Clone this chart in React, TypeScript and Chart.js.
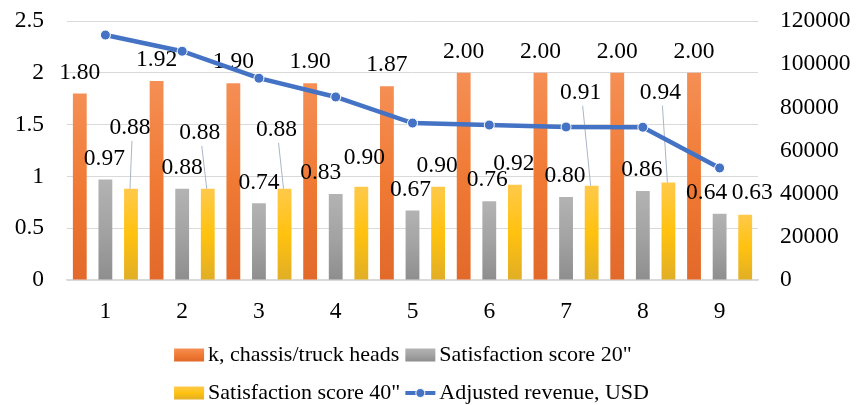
import React, { useEffect, useRef } from "react";
import { Chart, registerables } from "chart.js";

Chart.register(...registerables);

// ---------- data ----------
const categories = ["1", "2", "3", "4", "5", "6", "7", "8", "9"];
const chassisK = [1.8, 1.92, 1.9, 1.9, 1.87, 2.0, 2.0, 2.0, 2.0];
const score20 = [0.97, 0.88, 0.74, 0.83, 0.67, 0.76, 0.8, 0.86, 0.64];
const score40 = [0.88, 0.88, 0.88, 0.9, 0.9, 0.92, 0.91, 0.94, 0.63];
const revenue = [113500, 106000, 93500, 84800, 72700, 71800, 70900, 70800, 51900];

const seriesNames = [
  "k, chassis/truck heads",
  'Satisfaction score 20"',
  'Satisfaction score 40"',
  "Adjusted revenue, USD",
];

// ---------- style / layout ----------
const FONT = '"Liberation Serif", "Times New Roman", Times, "DejaVu Serif", serif';
const FONT_SIZE = 23.5;
const LEGEND_FONT_SIZE = 22;
const LABEL_GAP = 21;
// label nudges (pixels) relative to the default "above the bar" spot
const labelShift: [number, number][][] = [
  [[0, 0], [0, 0], [0, 0], [0, 0], [0, 0], [0, 0], [0, 0], [0, 0], [0, 0]],
  [[-1, 0], [0, 0], [0, 0], [-15, 0], [-2, 0], [-2, 0], [-1, 0], [-1, 0], [-13, 0]],
  [[-1, -40], [-8, -35], [-8, -38], [3, -8], [-1, 0], [-1, 0], [-11, -72], [-8, -69], [7, -1]],
];

const gradStops: [number, string][][] = [
  [[0, "#F58F55"], [0.5, "#F07A34"], [1, "#E2692A"]],
  [[0, "#B3B3B3"], [0.5, "#A3A3A3"], [1, "#8E8E8E"]],
  [[0, "#FFC94A"], [0.5, "#FFC20F"], [1, "#E1AE26"]],
];
const LINE_COLOR = "#4472C4";

function barGradient(chart: any, idx: number, top: number, bottom: number) {
  const g = chart.ctx.createLinearGradient(0, top, 0, bottom);
  for (const [o, c] of gradStops[idx]) g.addColorStop(o, c);
  return g;
}

function scriptedFill(idx: number) {
  return (c: any) => {
    const chart = c.chart;
    if (!chart.chartArea || c.raw == null) return gradStops[idx][1][1];
    const y = chart.scales.y;
    const top = y.getPixelForValue(c.raw);
    const bottom = y.getPixelForValue(0);
    if (!isFinite(top) || !isFinite(bottom) || top === bottom) return gradStops[idx][1][1];
    return barGradient(chart, idx, top, bottom);
  };
}

const labelPlugin = {
  id: "barLabels",
  beforeDatasetDraw(chart: any, args: any) {
    if (args.index !== 3) return;
    const ctx = chart.ctx;
    ctx.save();
    ctx.font = `${FONT_SIZE}px ${FONT}`;
    ctx.textAlign = "center";
    ctx.textBaseline = "middle";
    for (let d = 0; d < 3; d++) {
      const meta = chart.getDatasetMeta(d);
      meta.data.forEach((bar: any, i: number) => {
        const v = chart.data.datasets[d].data[i] as number;
        const [dx, dy] = labelShift[d][i];
        const lx = bar.x + dx;
        const ly = bar.y - LABEL_GAP + dy;
        if (Math.abs(dy) > 20) {
          ctx.strokeStyle = "#A9B6C8";
          ctx.lineWidth = 1;
          ctx.beginPath();
          ctx.moveTo(lx + 2, ly + 13);
          ctx.lineTo(bar.x - 1, bar.y);
          ctx.stroke();
        }
        ctx.fillStyle = "#000000";
        ctx.fillText(v.toFixed(2), lx, ly);
      });
    }
    ctx.restore();
  },
};

const legendPlugin = {
  id: "customLegend",
  afterDraw(chart: any) {
    const ctx = chart.ctx;
    const area = chart.chartArea;
    ctx.save();
    ctx.font = `${LEGEND_FONT_SIZE}px ${FONT}`;
    ctx.textBaseline = "middle";
    ctx.textAlign = "left";
    const sw = 30, sh = 13, gap = 4, colGap = 5;
    const w = seriesNames.map((n) => ctx.measureText(n).width);
    const col1 = Math.max(w[0], w[2]);
    const col2 = Math.max(w[1], w[3]);
    const total = sw + gap + col1 + colGap + sw + gap + col2;
    const x0 = (area.left + area.right) / 2 - total / 2 - 1;
    const xs = [x0, x0 + sw + gap + col1 + colGap];
    const rows = [355, 393];
    seriesNames.forEach((name, k) => {
      const x = xs[k % 2];
      const yc = rows[Math.floor(k / 2)];
      if (k < 3) {
        ctx.fillStyle = barGradient(chart, k, yc - sh / 2, yc + sh / 2);
        ctx.fillRect(x, yc - sh / 2, sw, sh);
      } else {
        ctx.strokeStyle = LINE_COLOR;
        ctx.lineWidth = 4;
        ctx.beginPath();
        ctx.moveTo(x, yc);
        ctx.lineTo(x + sw, yc);
        ctx.stroke();
        ctx.beginPath();
        ctx.arc(x + sw / 2, yc, 4.5, 0, Math.PI * 2);
        ctx.fillStyle = LINE_COLOR;
        ctx.fill();
        ctx.strokeStyle = "#FFFFFF";
        ctx.lineWidth = 1;
        ctx.stroke();
      }
      ctx.fillStyle = "#000000";
      ctx.fillText(name, x + sw + gap, yc);
    });
    ctx.restore();
  },
};

function fixVertical(width: number) {
  return (s: any) => {
    s.width = width;
    s.paddingTop = 0;
    s.paddingBottom = 0;
  };
}

export default function App() {
  const ref = useRef<HTMLCanvasElement | null>(null);

  useEffect(() => {
    if (!ref.current) return;
    let chart: any = null;
    let cancelled = false;
    const tickFont = { family: FONT, size: FONT_SIZE };
    const build = () => {
      if (cancelled || !ref.current) return;
      chart = new Chart(ref.current, {
        type: "bar",
        data: {
          labels: categories,
          datasets: [
            { type: "bar", label: seriesNames[0], data: chassisK, backgroundColor: scriptedFill(0), yAxisID: "y", order: 1 },
            { type: "bar", label: seriesNames[1], data: score20, backgroundColor: scriptedFill(1), yAxisID: "y", order: 1 },
            { type: "bar", label: seriesNames[2], data: score40, backgroundColor: scriptedFill(2), yAxisID: "y", order: 1 },
            {
              type: "line",
              label: seriesNames[3],
              data: revenue,
              yAxisID: "y1",
              order: 0,
              borderColor: LINE_COLOR,
              borderWidth: 4.5,
              pointRadius: 5,
              pointBackgroundColor: LINE_COLOR,
              pointBorderColor: "#FFFFFF",
              pointBorderWidth: 1,
              tension: 0,
            },
          ],
        } as any,
        options: {
          responsive: false,
          animation: false,
          devicePixelRatio: 1,
          layout: { padding: { top: 21, left: 0, right: 0, bottom: 0 } },
          datasets: { bar: { categoryPercentage: 1.0, barPercentage: 0.54 } },
          plugins: { legend: { display: false }, tooltip: { enabled: false } },
          scales: {
            x: {
              grid: { display: false, drawTicks: false },
              border: { display: true, color: "#D9D9D9", width: 1.5 },
              ticks: { font: tickFont, color: "#000000", padding: 18 },
              afterFit: (s: any) => {
                s.height = 125;
                s.paddingLeft = 0;
                s.paddingRight = 0;
              },
            },
            y: {
              position: "left",
              min: 0,
              max: 2.5,
              ticks: { stepSize: 0.5, font: tickFont, color: "#000000", padding: 23, callback: (v: any) => String(v) },
              grid: { color: "#D9D9D9", lineWidth: 1, drawTicks: false },
              border: { display: false },
              afterFit: fixVertical(67),
            },
            y1: {
              position: "right",
              min: 0,
              max: 120000,
              ticks: { stepSize: 20000, font: tickFont, color: "#000000", padding: 22, callback: (v: any) => String(v) },
              grid: { display: false, drawTicks: false },
              border: { display: false },
              afterFit: fixVertical(99),
            },
          },
        } as any,
        plugins: [labelPlugin, legendPlugin],
      });
    };
    const fonts: any = (document as any).fonts;
    if (fonts && fonts.load) {
      Promise.all([
        fonts.load(`${FONT_SIZE}px "Liberation Serif"`),
        fonts.load(`${FONT_SIZE}px "DejaVu Serif"`),
      ]).then(build, build);
    } else {
      build();
    }
    return () => {
      cancelled = true;
      if (chart) chart.destroy();
    };
  }, []);

  return (
    <div style={{ position: "fixed", left: 0, top: 0, width: 857, height: 405, background: "#FFFFFF" }}>
      <canvas ref={ref} width={857} height={405} style={{ display: "block", width: 857, height: 405 }} />
    </div>
  );
}
